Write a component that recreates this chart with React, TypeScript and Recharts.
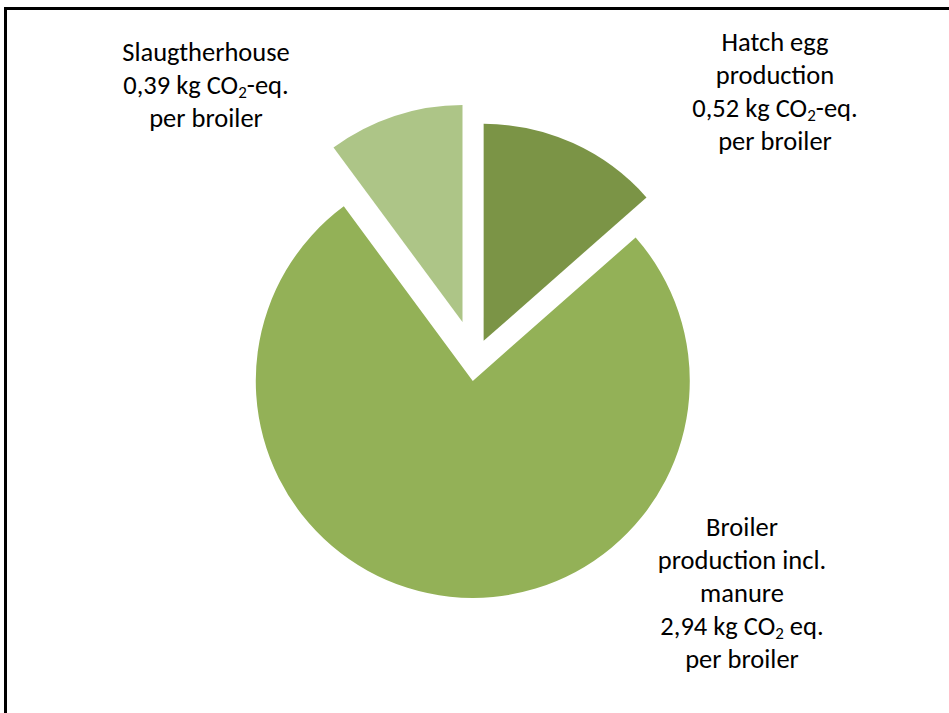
import { Cell, Pie, PieChart } from 'recharts';

const categories = ['Hatch egg production', 'Broiler production incl. manure', 'Slaugtherhouse'];
const values = [0.52, 2.94, 0.39];
// how each name is broken over lines in its label
const nameLines = [['Hatch egg', 'production'], ['Broiler', 'production incl.', 'manure'], ['Slaugtherhouse']];
const unitSuffix = ['-eq.', ' eq.', '-eq.'];

const COLORS = ['#7b9446', '#93b157', '#adc587'];
const EXPLODE = [21, 21, 40];
const LABEL_POS = [
  { x: 775, y: 42 },
  { x: 742, y: 527 },
  { x: 206, y: 52 },
];

const W = 949;
const H = 713;
const CX = 475;
const CY = 360;
const R = 217;
const LINE = 33;
const FONT = 'Carlito, Calibri, Lato, sans-serif';

const rows = categories.map((name, i) => ({ name, value: values[i] }));
const total = values.reduce((a, b) => a + b, 0);

// pull each slice outward along its own mid angle
const offsets = values.map((v, i) => {
  const before = values.slice(0, i).reduce((a, b) => a + b, 0);
  const mid = 90 - ((before + v / 2) / total) * 360;
  const rad = (mid * Math.PI) / 180;
  return { dx: EXPLODE[i] * Math.cos(rad), dy: -EXPLODE[i] * Math.sin(rad) };
});

const fmt = (v: number) => v.toFixed(2).replace('.', ',');

function SliceLabel({ k }: { k: number }) {
  const { x, y } = LABEL_POS[k];
  const names = nameLines[k];
  return (
    <text x={x} y={y + 9} textAnchor="middle" fontFamily={FONT} fontSize={26.5} fill="#000">
      {names.map((n, j) => (
        <tspan key={j} x={x} dy={j === 0 ? 0 : LINE}>
          {n}
        </tspan>
      ))}
      <tspan x={x} dy={LINE}>{`${fmt(values[k])} kg CO`}</tspan>
      <tspan dy={4} fontSize={17}>2</tspan>
      <tspan dy={-4}>{unitSuffix[k]}</tspan>
      <tspan x={x} dy={LINE}>per broiler</tspan>
    </text>
  );
}

export default function App() {
  return (
    <div style={{ position: 'absolute', left: 0, top: 0, width: W, height: H, background: '#fff', overflow: 'hidden' }}>
      <div
        style={{
          position: 'absolute',
          left: 4,
          top: 7,
          width: W + 20,
          height: H + 20,
          borderLeft: '3px solid #000',
          borderTop: '3px solid #000',
        }}
      />
      <div style={{ position: 'absolute', left: 0, top: 0 }}>
        <PieChart width={W} height={H} margin={{ top: 0, right: 0, bottom: 0, left: 0 }}>
          {values.map((_, k) => (
            <Pie
              key={k}
              data={rows}
              dataKey="value"
              nameKey="name"
              cx={CX + offsets[k].dx}
              cy={CY + offsets[k].dy}
              outerRadius={R}
              startAngle={90}
              endAngle={-270}
              stroke="none"
              isAnimationActive={false}
              labelLine={false}
              label={(p: { index: number }) => (p.index === k ? <SliceLabel k={k} /> : null)}
            >
              {rows.map((r, i) => (
                <Cell key={r.name} fill={i === k ? COLORS[k] : 'transparent'} />
              ))}
            </Pie>
          ))}
        </PieChart>
      </div>
    </div>
  );
}
